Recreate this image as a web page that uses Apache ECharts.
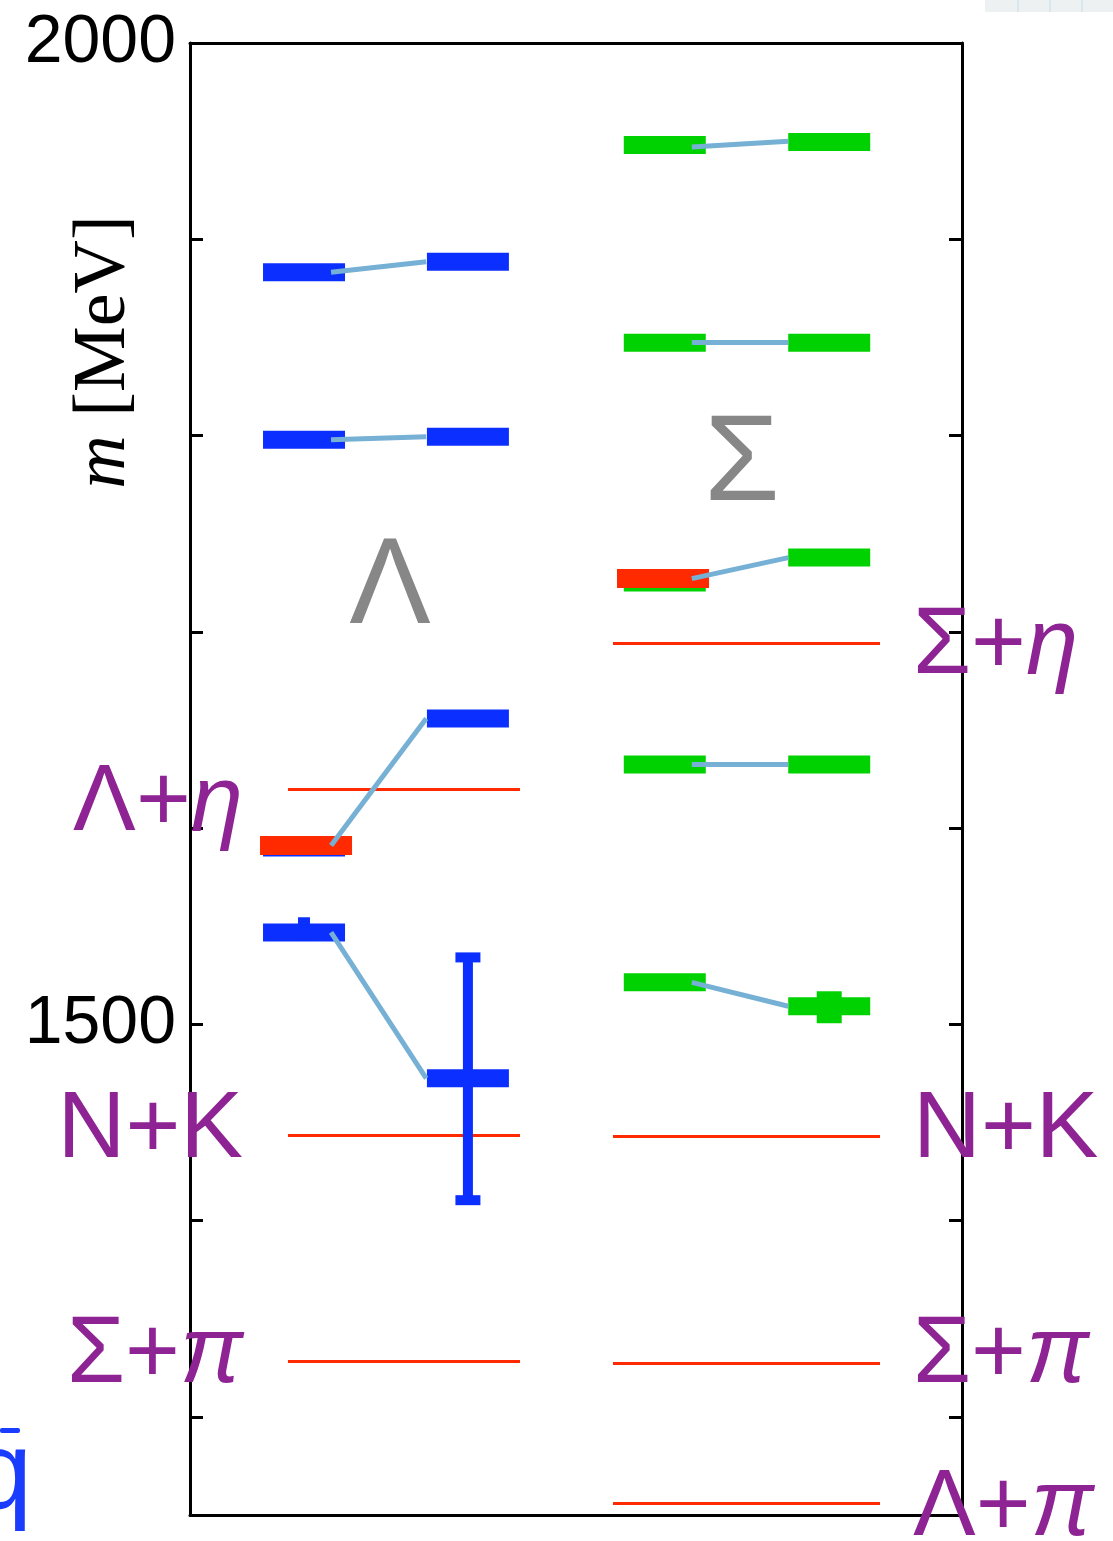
<!DOCTYPE html>
<html>
<head>
<meta charset="utf-8">
<script src="https://cdn.jsdelivr.net/npm/echarts@6/dist/echarts.min.js"></script>
<style>
  html, body { margin: 0; padding: 0; background: #fff; }
  #chart { width: 1113px; height: 1541px; }
</style>
</head>
<body>
<div id="chart"></div>
<script>
// masses in MeV
const lambdaLeft = [1883.2, 1797.9, 1590.1, 1546.8]
const lambdaRight = [1888.5, 1799.4, 1655.8, 1472.5]
const lambdaRed = [1591.1]
const lambdaLeftErr = [[1546.0, 1552.0]]
const lambdaRightErr = [[1410.4, 1534.1]]

const sigmaLeft = [1948.0, 1847.3, 1725.1, 1632.4, 1521.4]
const sigmaRight = [1949.5, 1847.3, 1737.8, 1632.4, 1509.2]
const sigmaRed = [1727.1]
const sigmaRightErr = [[1503.1, 1514.3]]

// connecting lines (left level -> right level)
const lambdaLinks = [[1883.2, 1888.5], [1797.9, 1799.4], [1591.1, 1655.8], [1546.8, 1472.5]]
const sigmaLinks = [[1947.0, 1950.0], [1847.3, 1847.3], [1727.1, 1737.8], [1632.4, 1632.4], [1521.4, 1509.2]]

// thresholds
const lambdaThrNames = ['Λ+η', 'N+K', 'Σ+π']
const lambdaThr = [1619.7, 1443.5, 1328.4]
const sigmaThrNames = ['Σ+η', 'N+K', 'Σ+π', 'Λ+π']
const sigmaThr = [1694.0, 1443.0, 1327.4, 1256.1]

const yTicks = [1300, 1400, 1500, 1600, 1700, 1800, 1900]
const yLabels = [1500, 2000]

// layout (x axis runs 0..100 across the box)
const col = { lamL: 14.77, lamR: 36.0, sigL: 61.5, sigR: 82.8 }
const halfW = 5.31
const redHalfW = 5.96
const lamThrX = [12.69, 42.75]
const sigThrX = [54.79, 89.38]
const lamLabelDy = [15, -4, -5]
const sigLabelDy = [4, -5, -7, 6]

const BLUE = '#0b2fff'
const GREEN = '#00d100'
const RED = '#ff2a00'
const LINK = '#76b0d4'
const PURPLE = '#8e2494'
const GRAY = '#878787'

function barSeries (xc, values, color, hw, thick, z) {
    return {
        type: 'custom',
        z: z,
        data: values.map(v => [xc, v]),
        renderItem (params, api) {
            const p1 = api.coord([api.value(0) - hw, api.value(1)])
            const p2 = api.coord([api.value(0) + hw, api.value(1)])
            return {
                type: 'rect',
                shape: { x: p1[0], y: p1[1] - thick / 2, width: p2[0] - p1[0], height: thick },
                style: { fill: color }
            }
        }
    }
}

function errSeries (xc, ranges, color, capW, z) {
    return {
        type: 'custom',
        z: z,
        data: ranges.map(r => [xc, r[0], r[1]]),
        renderItem (params, api) {
            const lo = api.coord([api.value(0), api.value(1)])
            const hi = api.coord([api.value(0), api.value(2)])
            return {
                type: 'group',
                children: [
                    { type: 'rect', shape: { x: lo[0] - 5, y: hi[1], width: 10, height: lo[1] - hi[1] }, style: { fill: color } },
                    { type: 'rect', shape: { x: lo[0] - capW / 2, y: hi[1] - 5, width: capW, height: 10 }, style: { fill: color } },
                    { type: 'rect', shape: { x: lo[0] - capW / 2, y: lo[1] - 5, width: capW, height: 10 }, style: { fill: color } }
                ]
            }
        }
    }
}

function linkData (xl, xr, pairs) {
    return pairs.map(p => ({ coords: [[xl, p[0]], [xr, p[1]]] }))
}

const labelRich = {
    i: { fontFamily: 'Liberation Sans', fontStyle: 'italic', fontSize: 94, color: PURPLE }
}
function fmtThr (name) {
    return name.replace(/([ηπ])/, '{i|$1}')
}

const chart = echarts.init(document.getElementById('chart'))
const option = {
    animation: false,
    grid: { left: 190, top: 43, width: 772, height: 1472 },
    xAxis: [
        { type: 'value', min: 0, max: 100, position: 'bottom',
          axisLine: { show: true, onZero: false, lineStyle: { color: '#000', width: 3 } },
          axisTick: { show: false }, axisLabel: { show: false }, splitLine: { show: false } },
        { type: 'value', min: 0, max: 100, position: 'top',
          axisLine: { show: true, onZero: false, lineStyle: { color: '#000', width: 3 } },
          axisTick: { show: false }, axisLabel: { show: false }, splitLine: { show: false } }
    ],
    yAxis: [
        { type: 'value', min: 1250, max: 2000, position: 'left',
          axisLine: { show: true, onZero: false, lineStyle: { color: '#000', width: 3 } },
          axisTick: { show: true, inside: true, length: 13, lineStyle: { color: '#000', width: 3 }, customValues: yTicks },
          axisLabel: { show: true, customValues: yLabels, formatter: v => String(v),
                       color: '#000', fontSize: 68, fontFamily: 'Liberation Sans', margin: 14 },
          splitLine: { show: false } },
        { type: 'value', min: 1250, max: 2000, position: 'right',
          axisLine: { show: true, onZero: false, lineStyle: { color: '#000', width: 3 } },
          axisTick: { show: true, inside: true, length: 13, lineStyle: { color: '#000', width: 3 }, customValues: yTicks },
          axisLabel: { show: false }, splitLine: { show: false } }
    ],
    series: [
        // thresholds
        {
            type: 'lines', coordinateSystem: 'cartesian2d', z: 2,
            lineStyle: { color: RED, width: 3, opacity: 1 },
            data: lambdaThr.map(v => ({ coords: [[lamThrX[0], v], [lamThrX[1], v]] }))
                .concat(sigmaThr.map(v => ({ coords: [[sigThrX[0], v], [sigThrX[1], v]] })))
        },
        // levels
        barSeries(col.lamL, lambdaLeft, BLUE, halfW, 18, 3),
        barSeries(col.lamR, lambdaRight, BLUE, halfW, 18, 3),
        barSeries(col.sigL, sigmaLeft, GREEN, halfW, 18, 3),
        barSeries(col.sigR, sigmaRight, GREEN, halfW, 18, 3),
        errSeries(col.lamL, lambdaLeftErr, BLUE, 12, 3),
        errSeries(col.lamR, lambdaRightErr, BLUE, 25, 3),
        errSeries(col.sigR, sigmaRightErr, GREEN, 25, 3),
        barSeries(15.03, lambdaRed, RED, redHalfW, 19, 4),
        barSeries(61.27, sigmaRed, RED, redHalfW, 19, 4),
        // links
        {
            type: 'lines', coordinateSystem: 'cartesian2d', z: 5,
            lineStyle: { color: LINK, width: 5, opacity: 1 },
            data: linkData(col.lamL + 3.5, col.lamR - 5.4, lambdaLinks)
                .concat(linkData(col.sigL + 3.5, col.sigR - 5.3, sigmaLinks))
        },
        // threshold names
        {
            type: 'scatter', symbolSize: 0, z: 10, itemStyle: { opacity: 1 },
            data: lambdaThr.map((v, i) => ({
                value: [lamThrX[0], v], name: lambdaThrNames[i],
                label: { offset: [0, lamLabelDy[i]] }
            })),
            label: {
                show: true, position: 'left', distance: 45,
                formatter: p => fmtThr(p.name),
                fontFamily: 'Liberation Sans', fontSize: 94, color: PURPLE, rich: labelRich
            }
        },
        {
            type: 'scatter', symbolSize: 0, z: 10, itemStyle: { opacity: 1 },
            data: sigmaThr.map((v, i) => ({
                value: [sigThrX[1], v], name: sigmaThrNames[i],
                label: { offset: [0, sigLabelDy[i]] }
            })),
            label: {
                show: true, position: 'right', distance: 33,
                formatter: p => fmtThr(p.name),
                fontFamily: 'Liberation Sans', fontSize: 94, color: PURPLE, rich: labelRich
            }
        },
        // baryon names
        {
            type: 'scatter', symbolSize: 0, z: 10, itemStyle: { opacity: 1 },
            data: [{ value: [25.9, 1721.5], name: 'Λ' }, { value: [71.5, 1784.5], name: 'Σ' }],
            label: {
                show: true, position: 'inside', formatter: p => p.name,
                fontFamily: 'Liberation Sans', fontSize: 122, color: GRAY
            }
        }
    ],
    graphic: [
        {
            type: 'text', x: 105, y: 352, rotation: Math.PI / 2, z: 20,
            style: {
                text: '{m|m} [MeV]', align: 'center', verticalAlign: 'middle',
                fontFamily: 'Liberation Serif', fontSize: 74, fill: '#000',
                rich: { m: { fontFamily: 'Liberation Serif', fontStyle: 'italic', fontSize: 74 } }
            }
        },
        {
            type: 'text', x: -29, y: 1533, z: 20,
            style: { text: 'q', fontFamily: 'Liberation Sans', fontSize: 110, fill: '#1a3cff', verticalAlign: 'bottom' }
        },
        { type: 'rect', shape: { x: 0, y: 1428, width: 20, height: 5, r: 2 }, style: { fill: '#1a3cff' }, z: 20 },
        { type: 'rect', shape: { x: 985, y: 0, width: 128, height: 12 }, style: { fill: '#eef1f2' }, z: 1 },
        { type: 'rect', shape: { x: 1017, y: 0, width: 2, height: 12 }, style: { fill: '#d6e7ee' }, z: 1 },
        { type: 'rect', shape: { x: 1049, y: 0, width: 2, height: 12 }, style: { fill: '#d6e7ee' }, z: 1 },
        { type: 'rect', shape: { x: 1081, y: 0, width: 2, height: 12 }, style: { fill: '#d6e7ee' }, z: 1 }
    ]
}
chart.setOption(option)
</script>
</body>
</html>
